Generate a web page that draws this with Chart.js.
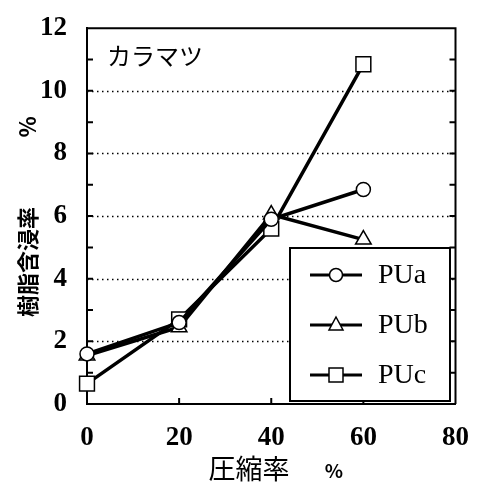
<!DOCTYPE html>
<html>
<head>
<meta charset="utf-8">
<script src="https://cdn.jsdelivr.net/npm/chart.js@4.4.1/dist/chart.umd.min.js"></script>
<style>
  html, body { margin: 0; padding: 0; background: #fff; }
  #wrap { width: 479px; height: 488px; }
</style>
</head>
<body>
<div id="wrap"><canvas id="grafico" width="479" height="488"></canvas></div>
<script>
// Datos
const compresion = [0, 20, 40, 60];          // 圧縮率 %
const puA = [1.6, 2.6, 5.9, 6.85];
const puB = [1.55, 2.45, 6.05, 5.25];
const puC = [0.65, 2.7, 5.6, 10.85];
const series = ["PUa", "PUb", "PUc"];
const marcadores = ["circle", "triangle", "rect"];
const yTicks = [0, 2, 4, 6, 8, 10, 12];
const xTicks = [0, 20, 40, 60, 80];

const serif = "'Liberation Serif', 'DejaVu Serif', serif";
const cjk = "'Noto Sans CJK JP', 'Noto Sans', sans-serif";

// Grilla punteada, marco superior y derecho
const marco = {
  id: "marco",
  beforeDatasetsDraw(chart) {
    const { ctx, chartArea: a, scales } = chart;
    ctx.save();
    ctx.strokeStyle = "#000";
    ctx.lineWidth = 1.5;
    ctx.setLineDash([1.5, 3.5]);
    [2, 4, 6, 8, 10].forEach((v) => {
      const py = Math.round(scales.y.getPixelForValue(v)) + 0.5;
      ctx.beginPath();
      ctx.moveTo(a.left, py); ctx.lineTo(a.right, py);
      ctx.stroke();
    });
    ctx.setLineDash([]);
    ctx.lineWidth = 2;
    ctx.beginPath();
    ctx.moveTo(a.left, a.top); ctx.lineTo(a.right, a.top); ctx.lineTo(a.right, a.bottom);
    ctx.stroke();
    ctx.restore();
  },
};

// Ticks hacia adentro, etiquetas de ejes, título y leyenda
const extras = {
  id: "extras",
  afterDatasetsDraw(chart) {
    const { ctx, chartArea: a, scales } = chart;
    const x = scales.x, y = scales.y;
    ctx.save();
    ctx.strokeStyle = "#000";
    ctx.lineWidth = 2;
    // ticks eje y (izquierda y derecha)
    for (let v = 1; v < 12; v++) {
      const py = y.getPixelForValue(v);
      ctx.beginPath();
      ctx.moveTo(a.left, py); ctx.lineTo(a.left + 6, py);
      ctx.moveTo(a.right, py); ctx.lineTo(a.right - 6, py);
      ctx.stroke();
    }
    // ticks eje x
    [20, 40, 60].forEach((v) => {
      const px = x.getPixelForValue(v);
      ctx.beginPath();
      ctx.moveTo(px, a.bottom); ctx.lineTo(px, a.bottom - 6);
      ctx.stroke();
    });

    // título interno
    ctx.fillStyle = "#000";
    ctx.font = "24px " + cjk;
    ctx.textAlign = "left";
    ctx.textBaseline = "middle";
    ctx.fillText("カラマツ", 107, 56);

    // título eje x
    ctx.font = "27px " + cjk;
    ctx.textAlign = "center";
    ctx.fillText("圧縮率", 249, 469);
    ctx.font = "bold 19px " + cjk;
    ctx.fillText("%", 334, 471);

    // título eje y (rotado)
    ctx.save();
    ctx.translate(28, 262);
    ctx.rotate(-Math.PI / 2);
    ctx.font = "bold 22px " + cjk;
    ctx.fillText("樹脂含浸率", 0, 0);
    ctx.restore();
    ctx.save();
    ctx.translate(28, 127);
    ctx.rotate(-Math.PI / 2);
    ctx.font = "bold 22px " + cjk;
    ctx.fillText("%", 0, 0);
    ctx.restore();

    // leyenda
    const lx = 290, ly = 248, lw = 160, lh = 153;
    ctx.fillStyle = "#fff";
    ctx.fillRect(lx, ly, lw, lh);
    ctx.lineWidth = 2;
    ctx.strokeRect(lx, ly, lw, lh);
    series.forEach((nombre, i) => {
      const cy = 275 + i * 50;
      ctx.lineWidth = 3;
      ctx.beginPath();
      ctx.moveTo(310, cy); ctx.lineTo(362, cy);
      ctx.stroke();
      ctx.lineWidth = 1.5;
      ctx.fillStyle = "#fff";
      ctx.beginPath();
      if (marcadores[i] === "circle") {
        ctx.arc(336, cy, 6.5, 0, Math.PI * 2);
      } else if (marcadores[i] === "triangle") {
        ctx.moveTo(336, cy - 8); ctx.lineTo(343, cy + 5); ctx.lineTo(329, cy + 5); ctx.closePath();
      } else {
        ctx.rect(329, cy - 7, 14, 14);
      }
      ctx.fill();
      ctx.stroke();
      ctx.fillStyle = "#000";
      ctx.font = "28px " + serif;
      ctx.textAlign = "left";
      ctx.fillText(nombre, 378, cy + 1);
    });
    ctx.restore();
  },
};

const estilo = (label, data, forma, radio) => ({
  label,
  data: compresion.map((c, i) => ({ x: c, y: data[i] })),
  borderColor: "#000",
  borderWidth: 3.5,
  pointStyle: forma,
  pointRadius: radio,
  pointBorderWidth: 1.5,
  pointBackgroundColor: "#fff",
  pointBorderColor: "#000",
  tension: 0,
  clip: false,
});

new Chart(document.getElementById("grafico"), {
  type: "line",
  data: {
    datasets: [
      estilo("PUa", puA, "circle", 7),
      estilo("PUb", puB, "triangle", 9),
      estilo("PUc", puC, "rect", 10.5),
    ],
  },
  options: {
    responsive: false,
    animation: false,
    layout: { padding: { top: 21, right: 22, left: 0, bottom: 0 } },
    plugins: { legend: { display: false }, tooltip: { enabled: false } },
    scales: {
      x: {
        type: "linear",
        min: 0,
        max: 80,
        afterBuildTicks: (s) => { s.ticks = xTicks.map((v) => ({ value: v })); },
        afterFit: (s) => { s.height = 84; },
        grid: { display: false },
        border: { display: true, color: "#000", width: 2 },
        ticks: {
          color: "#000",
          padding: 10,
          font: { family: serif, size: 27, weight: "bold" },
        },
      },
      y: {
        min: 0,
        max: 12,
        afterBuildTicks: (s) => { s.ticks = yTicks.map((v) => ({ value: v })); },
        afterFit: (s) => { s.width = 87; },
        grid: { display: false },
        border: { display: true, color: "#000", width: 2 },
        ticks: {
          color: "#000",
          padding: 12,
          font: { family: serif, size: 27, weight: "bold" },
        },
      },
    },
  },
  plugins: [marco, extras],
});
</script>
</body>
</html>
